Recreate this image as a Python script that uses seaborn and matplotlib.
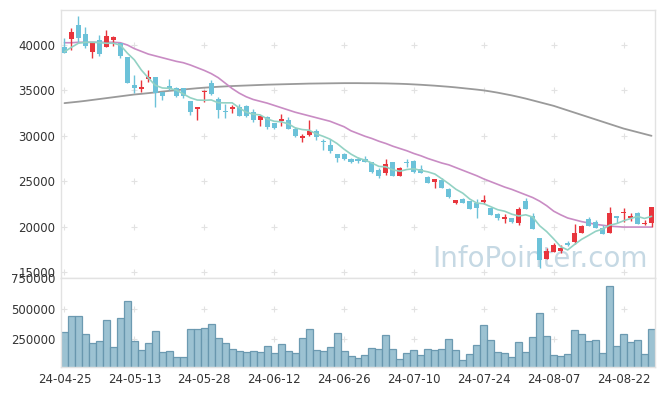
import numpy as np
import pandas as pd
import seaborn as sns
import matplotlib.pyplot as plt

# trading days (KRX holidays removed)
dates = pd.bdate_range("2024-04-25", "2024-08-28", freq="C",
                       holidays=["2024-05-01", "2024-05-06", "2024-05-15",
                                 "2024-06-06", "2024-08-15"])
date_labels = list(dates.strftime("%y-%m-%d"))

opens = np.array([39750, 40700, 42200, 41200, 39250, 40600, 39800, 40550, 40250, 38700,
                  35600, 35150, 36250, 36500, 34850, 35500, 35300, 35300, 33850, 33000,
                  34800, 35800, 34000, 32750, 33000, 33150, 33250, 32650, 31750, 32050,
                  31400, 31650, 31750, 30800, 29800, 30100, 30550, 29450, 29000, 28000,
                  27950, 27400, 27450, 27400, 27100, 26250, 25850, 27100, 25600, 27150,
                  27250, 26350, 25450, 24950, 25150, 24100, 22650, 23050, 22800, 22650,
                  22750, 22100, 21350, 20850, 20900, 20350, 22800, 21200, 18800, 16450,
                  17200, 17300, 18200, 18250, 19250, 20800, 20500, 19900, 19250, 21150,
                  21450, 20900, 21500, 20250, 20450])
highs = np.array([40800, 41850, 43200, 41950, 40300, 41050, 41600, 41000, 40250, 38700,
                  36700, 36200, 37200, 36500, 34850, 36300, 35400, 35300, 33850, 33150,
                  35050, 36150, 34300, 33450, 33400, 33450, 33400, 33000, 32200, 32200,
                  31400, 32400, 32100, 30950, 30250, 31750, 30700, 29600, 29600, 28000,
                  28100, 27550, 27700, 27800, 27150, 26400, 27400, 27100, 26550, 27400,
                  27350, 26800, 25600, 25200, 25350, 24200, 22950, 23200, 22800, 23000,
                  23500, 22100, 21550, 21350, 21000, 22150, 23100, 21450, 18800, 17650,
                  18200, 17950, 18400, 20250, 20200, 21050, 20750, 20200, 22150, 21150,
                  22000, 21450, 21600, 20750, 22150])
lows = np.array([39100, 39450, 40350, 39700, 38550, 38800, 39800, 39900, 38550, 35850,
                 34700, 34850, 35950, 33150, 33950, 35000, 34300, 34200, 32300, 31700,
                 33750, 34500, 31950, 31950, 32500, 32200, 32100, 31500, 31100, 30700,
                 30750, 31100, 30700, 29850, 29300, 30000, 29550, 28450, 28100, 27100,
                 27300, 26950, 26950, 27100, 25950, 25400, 25700, 25600, 25600, 26600,
                 25950, 25900, 24850, 24200, 24300, 23100, 22450, 22650, 21950, 21000,
                 22450, 21300, 20700, 20450, 20350, 20150, 21950, 19750, 15400, 16450,
                 17200, 17100, 17850, 18050, 19250, 20100, 19900, 19150, 19250, 20400,
                 20500, 20600, 20300, 20150, 19950])
closes = np.array([39150, 41400, 40800, 39900, 40250, 39000, 41000, 40850, 38800, 35850,
                   35300, 35400, 36500, 34750, 34400, 35100, 34400, 34400, 32650, 33150,
                   34950, 34600, 32850, 32600, 33150, 32200, 32200, 31750, 32200, 30950,
                   30900, 31900, 30700, 29950, 30000, 30550, 29900, 29350, 28350, 27600,
                   27450, 27150, 27250, 27150, 26000, 25600, 26900, 25600, 26400, 26950,
                   26000, 25950, 24850, 25200, 24300, 23300, 22950, 22650, 21950, 22100,
                   22950, 21300, 21000, 21100, 20500, 21950, 21950, 19750, 16300, 17300,
                   17950, 17650, 17950, 19350, 20100, 20100, 19900, 19150, 21500, 21000,
                   21650, 21150, 20300, 20400, 22150])
# closes of the 4 sessions before the window (for the 5-day average)
prior_closes = [38950, 38550, 39400, 40250]

ma20 = [40250, 40250, 40300, 40300, 40300, 40300, 40300, 40300, 40250, 40000,
        39600, 39300, 39000, 38800, 38600, 38400, 38200, 38050, 37800, 37500,
        37200, 36850, 36400, 35800, 35200, 34700, 34300, 34000, 33800, 33600,
        33350, 33100, 32850, 32600, 32400, 32200, 32000, 31800, 31600, 31300,
        31000, 30550, 30250, 29950, 29700, 29400, 29150, 28850, 28600, 28350,
        28050, 27800, 27500, 27250, 27000, 26800, 26500, 26200, 25900, 25600,
        25250, 24950, 24650, 24350, 24100, 23800, 23500, 23200, 22800, 22300,
        21700, 21300, 20950, 20750, 20550, 20400, 20250, 20150, 20050, 20000,
        19950, 19950, 19950, 19950, 19950]
ma120 = [33600, 33680, 33760, 33850, 33950, 34050, 34150, 34250, 34350, 34450,
         34550, 34620, 34700, 34780, 34870, 34950, 35020, 35100, 35170, 35240,
         35300, 35350, 35400, 35440, 35480, 35510, 35540, 35570, 35600, 35630,
         35650, 35670, 35690, 35710, 35730, 35750, 35760, 35770, 35780, 35790,
         35800, 35800, 35800, 35790, 35790, 35780, 35770, 35750, 35730, 35700,
         35660, 35620, 35570, 35520, 35460, 35400, 35330, 35250, 35170, 35090,
         35000, 34880, 34750, 34600, 34450, 34280, 34100, 33900, 33700, 33500,
         33300, 33050, 32800, 32550, 32300, 32050, 31800, 31550, 31300, 31050,
         30800, 30600, 30400, 30200, 30000]

volume = [310000, 438600, 438600, 291000, 217000, 236000, 405700, 184400, 422000, 561500,
          236000, 159800, 217000, 315600, 143400, 154000, 102400, 102400, 332000, 332000,
          340000, 373000, 258000, 217000, 168000, 151600, 143400, 154000, 143400, 192600,
          135200, 209000, 151600, 135200, 258000, 332000, 159800, 151600, 184400, 299000,
          151600, 110700, 94000, 119000, 176000, 168000, 283000, 168000, 86000, 135200,
          159800, 119000, 168000, 159800, 168000, 250000, 159800, 77800, 127000, 200800,
          364800, 241800, 143400, 135200, 102400, 225400, 143400, 266400, 463000, 274600,
          119000, 110700, 127000, 323800, 291000, 233600, 241800, 135200, 684400, 192600,
          291000, 225400, 241800, 127000, 332000]

price_ticks = [15000, 20000, 25000, 30000, 35000, 40000]
volume_ticks = [250000, 500000, 750000]

RED = "#e8353d"
BLUE = "#6cc2d9"
GRID = "#e2e2e2"

idx = np.arange(len(closes))
ma5 = pd.Series(prior_closes + list(closes)).rolling(5).mean().to_numpy()[len(prior_closes):]
lines = pd.DataFrame({"i": idx, "ma5": ma5, "ma20": ma20, "ma120": ma120})

sns.set_theme(style="white")
plt.rcParams["font.family"] = ["DejaVu Sans"]

fig = plt.figure(figsize=(6.65, 3.96), dpi=100)
ax = fig.add_axes([61 / 665, 1 - 278 / 396, 594 / 665, 268 / 396])
axv = fig.add_axes([61 / 665, 1 - 367 / 396, 594 / 665, 89 / 396])

# watermark
ax.text(0.988, 0.042, "InfoPointer.com", transform=ax.transAxes, ha="right",
        va="baseline", fontsize=20, color="#c6d9e4", zorder=0)

# grid crosses
gx, gy = np.meshgrid(range(0, 85, 10), price_ticks)
ax.scatter(gx.ravel(), gy.ravel(), marker="+", s=14, color=GRID, lw=0.8, zorder=1)
gx, gy = np.meshgrid(range(0, 85, 10), volume_ticks[:2])
axv.scatter(gx.ravel(), gy.ravel(), marker="+", s=14, color=GRID, lw=0.8, zorder=0)

# candles
colors = np.where(closes >= opens, RED, BLUE)
ax.vlines(idx, lows, highs, colors=colors, lw=1, zorder=3)
ax.bar(idx, np.maximum(np.abs(closes - opens), 90), bottom=np.minimum(opens, closes),
       width=0.72, color=colors, lw=0, zorder=4)

# moving averages
sns.lineplot(data=lines, x="i", y="ma120", ax=ax, color="#9a9a9a", lw=1.3, zorder=2)
sns.lineplot(data=lines, x="i", y="ma20", ax=ax, color="#c98cc4", lw=1.2, zorder=2)
sns.lineplot(data=lines, x="i", y="ma5", ax=ax, color="#93d2c4", lw=1.2, zorder=5)

# volume
sns.barplot(x=idx, y=volume, ax=axv, color="#97bfd0", width=1.0, saturation=1,
            edgecolor="#6796ae", linewidth=0.9, alpha=0.95, zorder=2)

for a in (ax, axv):
    a.set_xlim(-0.5, 84.5)
    a.set_xlabel("")
    a.set_ylabel("")
    for s in a.spines.values():
        s.set_color("#e2e2e2")
        s.set_linewidth(1)
    a.tick_params(length=0, labelsize=8.5, labelcolor="#333333", pad=4)

ax.set_ylim(14340, 43855)
ax.set_yticks(price_ticks)
ax.set_yticklabels([str(t) for t in price_ticks])
ax.set_xticks(range(0, 85, 10))
ax.set_xticklabels([])

axv.set_ylim(20500, 750000)
axv.set_yticks(volume_ticks)
axv.set_yticklabels([str(t) for t in volume_ticks])
axv.set_xticks(range(0, 85, 10))
axv.set_xticklabels(date_labels[::10])

fig.savefig("out.png", dpi=100)
